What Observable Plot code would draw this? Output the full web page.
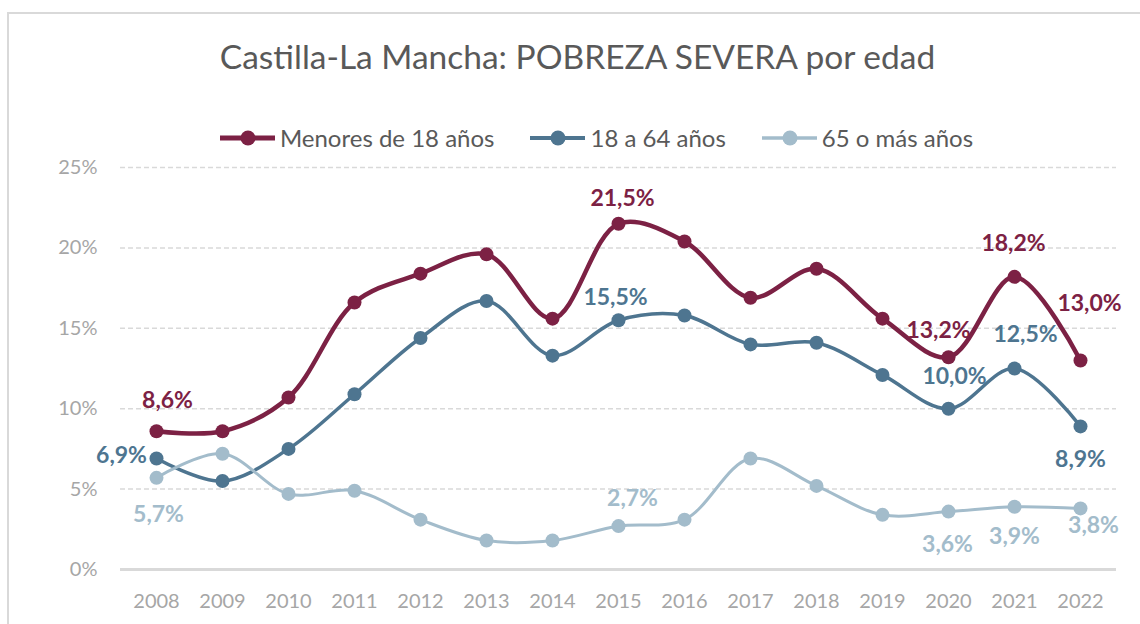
<!DOCTYPE html>
<html>
<head>
<meta charset="utf-8">
<script src="https://cdn.jsdelivr.net/npm/d3@7"></script>
<script src="https://cdn.jsdelivr.net/npm/@observablehq/plot@0.6"></script>
<style>
  html, body { margin: 0; padding: 0; background: #fff; overflow: hidden; }
  #page { position: relative; width: 1140px; height: 624px; overflow: hidden; font-family: Lato, "Open Sans", sans-serif; }
  #frame { position: absolute; left: 7px; top: 12px; width: 1200px; height: 700px; border: 2px solid #d9d9d9; box-sizing: border-box; }
  #title { position: absolute; left: 0; top: 36px; width: 1155px; text-align: center; font-size: 33.5px; line-height: 1.2; color: #595959; white-space: nowrap; }
  #legend { position: absolute; left: 0; top: 124px; width: 1193px; display: flex; justify-content: center; gap: 36px; font-size: 24px; line-height: 1.2; color: #595959; white-space: nowrap; }
  .item { display: flex; align-items: center; gap: 5px; }
  .item svg { display: block; }
  #chart { position: absolute; left: 0; top: 150px; }
</style>
</head>
<body>
<div id="page">
  <div id="frame"></div>
  <div id="title">Castilla-La Mancha: POBREZA SEVERA por edad</div>
  <div id="legend"></div>
  <div id="chart"></div>
</div>
<script>
// ---- data ----
const years = [2008, 2009, 2010, 2011, 2012, 2013, 2014, 2015, 2016, 2017, 2018, 2019, 2020, 2021, 2022];
const seriesNames = ["Menores de 18 años", "18 a 64 años", "65 o más años"];
const menores = [8.6, 8.6, 10.7, 16.6, 18.4, 19.6, 15.6, 21.5, 20.4, 16.9, 18.7, 15.6, 13.2, 18.2, 13.0];
const adultos = [6.9, 5.5, 7.5, 10.9, 14.4, 16.7, 13.3, 15.5, 15.8, 14.0, 14.1, 12.1, 10.0, 12.5, 8.9];
const mayores = [5.7, 7.2, 4.7, 4.9, 3.1, 1.8, 1.8, 2.7, 3.1, 6.9, 5.2, 3.4, 3.6, 3.9, 3.8];
const yTicks = [0, 5, 10, 15, 20, 25];

// ---- styles ----
const colors = ["#7C2144", "#4E7590", "#A3BCCB"];
const lineWidths = [4.5, 3.5, 3];

// data labels: which points are labelled and where the label sits relative to the point
const labelPlacement = [
  {s: 0, year: 2008, dx: 11, dy: -31},
  {s: 0, year: 2015, dx: 4, dy: -25},
  {s: 0, year: 2020, dx: -10, dy: -27},
  {s: 0, year: 2021, dx: -1, dy: -33},
  {s: 0, year: 2022, dx: 9, dy: -57},
  {s: 1, year: 2008, dx: -35, dy: -3},
  {s: 1, year: 2015, dx: -3, dy: -23},
  {s: 1, year: 2020, dx: 6, dy: -32},
  {s: 1, year: 2021, dx: 11, dy: -34},
  {s: 1, year: 2022, dx: 0, dy: 33},
  {s: 2, year: 2008, dx: 2, dy: 37},
  {s: 2, year: 2015, dx: 14, dy: -27},
  {s: 2, year: 2020, dx: -1, dy: 33},
  {s: 2, year: 2021, dx: 0, dy: 30},
  {s: 2, year: 2022, dx: 13, dy: 17}
];

const valuesBySeries = [menores, adultos, mayores];
const rows = [];
valuesBySeries.forEach((vals, s) => {
  vals.forEach((v, i) => rows.push({s, series: seriesNames[s], year: years[i], value: v}));
});

const fmt = v => d3.format(".1f")(v).replace(".", ",") + "%";

// ---- legend ----
const legend = document.getElementById("legend");
seriesNames.forEach((name, s) => {
  const item = document.createElement("div");
  item.className = "item";
  item.innerHTML = `<svg width="55" height="18"><line x1="0" x2="55" y1="9" y2="9" stroke="${colors[s]}" stroke-width="${lineWidths[s] + 0.5}" stroke-linecap="round"/><circle cx="28" cy="9" r="7.5" fill="${colors[s]}"/></svg><span>${name}</span>`;
  legend.appendChild(item);
});

// ---- chart ----
const marks = [
  Plot.ruleY(yTicks.filter(d => d > 0), {stroke: "#d9d9d9", strokeWidth: 1.5, strokeDasharray: "5,3"}),
  Plot.ruleY([0], {stroke: "#d9d9d9", strokeWidth: 3}),
  Plot.axisY({ticks: yTicks, tickSize: 0, tickPadding: 23, tickFormat: d => d + "%", fontSize: 20, label: null}),
  Plot.axisX({tickSize: 0, tickPadding: 24, tickFormat: d => String(d), fontSize: 20, label: null})
];
[0, 1, 2].forEach(s => {
  const data = rows.filter(d => d.s === s);
  marks.push(Plot.line(data, {x: "year", y: "value", stroke: colors[s], strokeWidth: lineWidths[s], curve: "catmull-rom"}));
  marks.push(Plot.dot(data, {x: "year", y: "value", r: 7, fill: colors[s], stroke: "none"}));
});
labelPlacement.forEach(p => {
  const data = rows.filter(d => d.s === p.s && d.year === p.year);
  marks.push(Plot.text(data, {
    x: "year", y: "value", text: d => fmt(d.value),
    dx: p.dx, dy: p.dy, fill: colors[p.s],
    fontSize: 23, fontWeight: "bold", textAnchor: "middle"
  }));
});

const chart = Plot.plot({
  width: 1140,
  height: 474,
  marginTop: 17,
  marginBottom: 55,
  marginLeft: 120,
  marginRight: 24,
  style: {fontFamily: "Lato, 'Open Sans', sans-serif", fontSize: "20px", color: "#a6a6a6", background: "transparent", overflow: "visible"},
  x: {type: "point", domain: years, padding: 0.5, label: null},
  y: {domain: [0, 25], label: null},
  marks
});
document.getElementById("chart").appendChild(chart);
</script>
</body>
</html>
